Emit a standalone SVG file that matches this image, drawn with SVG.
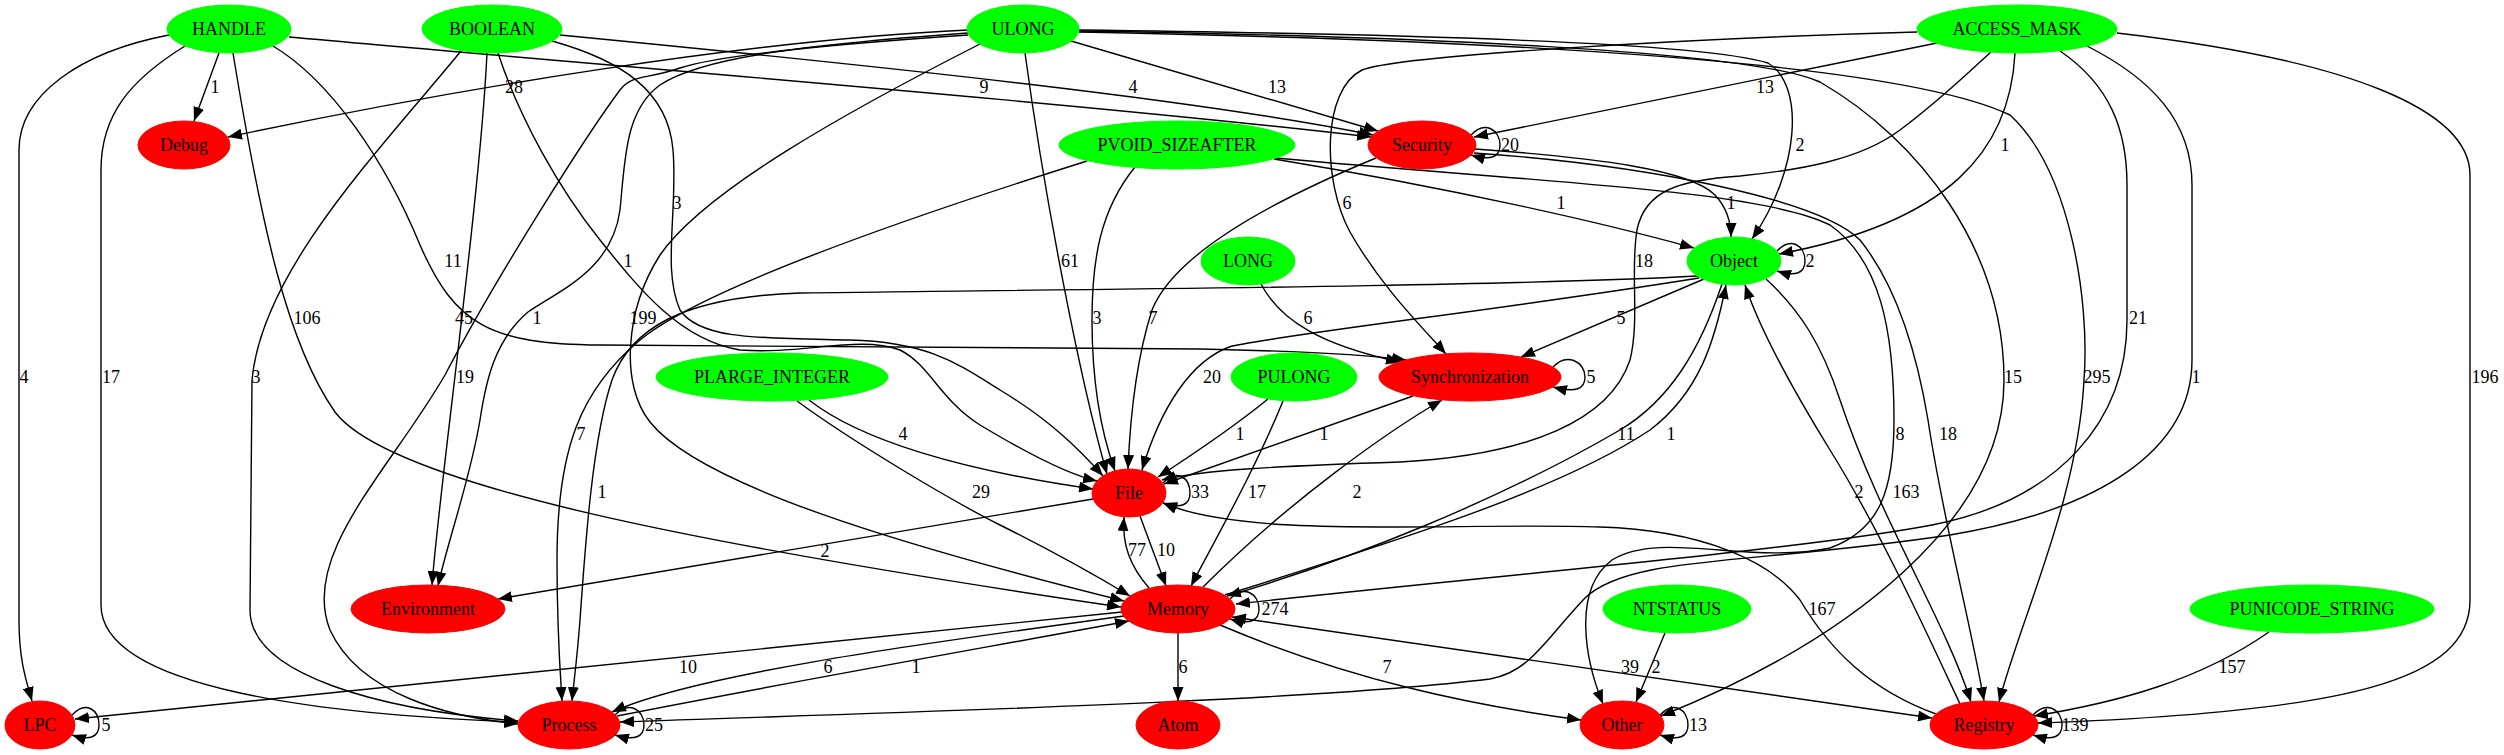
<svg xmlns="http://www.w3.org/2000/svg" width="2504" height="755" viewBox="0 0 2504 755">
<style>
.e{fill:none;stroke:#000;stroke-width:1.4;marker-end:url(#ah)}
.b{marker-start:url(#ahs)}
.l{font-family:"Liberation Serif","Times New Roman",serif;font-size:18px;text-anchor:middle;fill:#000}
.g{fill:#00ff00;stroke:#00ff00}
.r{fill:#ff0000;stroke:#ff0000}
.t{font-family:"Liberation Serif","Times New Roman",serif;font-size:18px;text-anchor:middle;fill:#000}
</style>
<defs>
<marker id="ah" markerWidth="15" markerHeight="11" refX="14" refY="5.5" orient="auto" markerUnits="userSpaceOnUse"><path d="M0,0 L14,5.5 L0,11 z" fill="#000"/></marker>
<marker id="ahs" markerWidth="15" markerHeight="11" refX="14" refY="5.5" orient="auto-start-reverse" markerUnits="userSpaceOnUse"><path d="M0,0 L14,5.5 L0,11 z" fill="#000"/></marker>
</defs>
<rect width="2504" height="755" fill="#fff"/>
<g id="edges">
<path class="e" d="M219,53 L194,121"/>
<path class="e" d="M169,35 C80,52 19,95 19,150 L19,620 C19,660 26,680 32,701"/>
<path class="e" d="M185,46 C130,80 101,115 101,170 L101,605 C101,690 330,715 518,722"/>
<path class="e" d="M233,53 C262,230 288,345 335,412 C390,485 700,545 1121,607"/>
<path class="e" d="M289,37 C600,65 1100,105 1371,137"/>
<path class="e" d="M273,46 C330,80 385,160 420,245 C455,325 490,344 600,345 L1200,349 C1300,351 1360,354 1406,360"/>
<path class="e" d="M560,35 C900,68 1200,100 1373,135"/>
<path class="e" d="M461,51 C380,150 262,270 252,380 L250,610 C250,675 380,710 518,721"/>
<path class="e" d="M487,53 C480,200 440,480 432,585"/>
<path class="e" d="M968,33 C800,45 700,58 660,85 C625,110 625,160 620,210 C612,270 560,290 528,312 C495,340 486,380 480,420 C470,480 448,540 438,586"/>
<path class="e" d="M968,35 C820,45 720,55 680,68 C645,80 632,74 620,90 C590,130 500,270 445,375 C390,470 300,555 330,630 C360,695 450,717 518,724"/>
<path class="e" d="M968,30 C750,40 460,88 228,137"/>
<path class="e" d="M1071,41 L1378,131"/>
<path class="e" d="M1025,53 C1045,200 1080,380 1107,474"/>
<path class="e" d="M980,44 C850,110 705,190 660,255 C625,310 620,385 650,422 C700,485 900,545 1124,601"/>
<path class="e" d="M1079,30 C1400,34 1700,42 1768,63 C1805,85 1800,170 1752,239"/>
<path class="e" d="M1079,31 C1400,36 1750,50 1820,82 C1920,140 2004,250 2004,380 C2004,520 1850,640 1661,716"/>
<path class="e" d="M1079,32 C1500,40 1900,62 2010,115 C2070,170 2090,300 2084,380 C2078,500 2020,620 1999,702"/>
<path class="e" d="M1937,43 L1474,137"/>
<path class="e" d="M1917,32 C1700,38 1400,55 1362,70 C1322,90 1322,180 1350,232 C1380,285 1420,325 1446,354"/>
<path class="e" d="M2015,53 C2010,150 1950,222 1779,254"/>
<path class="e" d="M1991,52 C1960,80 1940,100 1900,130 C1860,160 1800,170 1740,176 C1680,180 1645,190 1637,230 C1630,270 1640,320 1630,360 C1610,420 1530,455 1400,462 C1280,466 1200,470 1162,480"/>
<path class="e" d="M2060,51 C2110,85 2127,130 2127,185 L2127,320 C2127,420 2060,500 1932,525 C1800,550 1500,575 1236,604"/>
<path class="e" d="M2087,46 C2150,78 2192,120 2192,185 L2192,360 C2192,450 2100,510 1950,535 C1750,565 1630,555 1585,598 C1545,640 1530,672 1490,679 C1300,702 900,712 620,722"/>
<path class="e" d="M1274,159 C1450,188 1600,222 1694,248"/>
<path class="e" d="M1275,158 C1550,183 1760,190 1830,225 C1880,260 1894,330 1894,420 C1894,490 1880,530 1830,548 C1750,565 1660,530 1612,560 C1572,590 1585,660 1603,704"/>
<path class="e" d="M1135,167 C1100,210 1092,260 1092,320 C1092,390 1102,435 1115,471"/>
<path class="e" d="M1087,161 C900,220 700,290 640,340 C580,390 557,450 557,560 C557,630 560,670 562,701"/>
<path class="e" d="M1698,276 C1500,287 1000,290 800,293 C680,297 630,330 612,380 C592,440 585,550 580,620 C577,660 574,680 572,701"/>
<path class="e" d="M1699,278 C1500,310 1300,332 1232,346 C1190,360 1160,410 1142,470"/>
<path class="e" d="M1704,279 L1521,357"/>
<path class="e" d="M1777,251 C1791,236 1805,246 1805,261 C1805,273 1796,277 1777,271"/>
<path class="e" d="M1722,284 C1700,350 1670,400 1620,430 C1500,500 1350,560 1227,596"/>
<path class="e" d="M1225,595 C1400,540 1560,490 1650,430 C1700,392 1715,340 1726,285"/>
<path class="e" d="M1960,704 C1930,640 1880,530 1830,450 C1790,385 1760,330 1745,285"/>
<path class="e" d="M1766,279 C1800,310 1822,345 1840,400 C1880,520 1945,620 1971,702"/>
<path class="e" d="M1475,149 C1600,158 1690,170 1715,195 C1729,210 1731,225 1731,237"/>
<path class="e" d="M1474,153 C1650,165 1820,200 1860,240 C1900,290 1918,360 1928,420 C1943,520 1970,620 1984,701"/>
<path class="e" d="M1471,135 C1485,120 1500,130 1500,145 C1500,157 1491,161 1471,155"/>
<path class="e" d="M1376,158 C1250,210 1172,260 1152,310 C1136,360 1130,420 1128,469"/>
<path class="e" d="M1553,367 C1567,352 1585,362 1585,377 C1585,389 1576,393 1553,387"/>
<path class="e" d="M1413,396 L1164,484"/>
<path class="e" d="M1268,399 C1230,430 1192,455 1158,477"/>
<path class="e" d="M1283,401 C1255,470 1215,540 1191,586"/>
<path class="e" d="M1261,284 C1280,320 1320,345 1400,362"/>
<path class="e" d="M809,400 C860,440 960,470 1093,489"/>
<path class="e" d="M797,401 C850,440 950,500 1000,525 C1050,550 1090,572 1130,596"/>
<path class="e" d="M552,41 C620,60 668,90 673,150 C678,210 662,270 680,310 C700,340 760,338 850,340 C930,342 960,365 1000,390 C1050,420 1080,450 1103,476"/>
<path class="e" d="M498,53 C520,120 560,190 600,240 C640,290 680,340 740,350 C800,355 860,335 900,350 C930,365 940,400 980,425 C1030,455 1070,475 1097,481"/>
<path class="e" d="M1163,483 C1177,468 1190,478 1190,493 C1190,505 1181,509 1163,503"/>
<path class="e" d="M1140,516 L1166,586"/>
<path class="e" d="M1149,588 C1130,566 1122,545 1124,517"/>
<path class="e" d="M1093,499 L498,599"/>
<path class="e" d="M1203,587 C1290,500 1390,430 1442,400"/>
<path class="e" d="M1230,599 C1244,584 1259,594 1259,609 C1259,621 1250,625 1230,619"/>
<path class="e" d="M1178,633 L1178,701"/>
<path class="e" d="M1220,625 C1350,680 1470,705 1581,720"/>
<path class="e b" d="M1232,617 L1932,718"/>
<path class="e" d="M1122,612 L75,719"/>
<path class="e" d="M1124,616 C950,640 700,672 612,712"/>
<path class="e" d="M617,716 C800,680 1000,645 1129,621"/>
<path class="e" d="M72,715 C86,700 99,710 99,725 C99,737 90,741 72,735"/>
<path class="e" d="M615,715 C629,700 644,710 644,725 C644,737 635,741 615,735"/>
<path class="e" d="M1665,633 L1636,702"/>
<path class="e" d="M1660,715 C1674,700 1688,710 1688,725 C1688,737 1679,741 1660,735"/>
<path class="e" d="M2269,632 C2200,680 2120,702 2034,716"/>
<path class="e" d="M2117,33 C2350,60 2470,110 2470,175 L2470,600 C2470,680 2350,712 2038,723"/>
<path class="e" d="M2033,715 C2047,700 2062,710 2062,725 C2062,737 2053,741 2033,735"/>
<path class="e" d="M1936,714 C1870,690 1830,650 1800,600 C1770,560 1700,530 1600,527 C1450,522 1250,540 1163,503"/>
<g id="edge-labels">
<text class="l" x="215" y="93">1</text>
<text class="l" x="514" y="93">28</text>
<text class="l" x="677" y="209">3</text>
<text class="l" x="453" y="267">11</text>
<text class="l" x="628" y="267">1</text>
<text class="l" x="307" y="324">106</text>
<text class="l" x="464" y="324">45</text>
<text class="l" x="537" y="324">1</text>
<text class="l" x="643" y="324">199</text>
<text class="l" x="24" y="383">4</text>
<text class="l" x="111" y="383">17</text>
<text class="l" x="256" y="383">3</text>
<text class="l" x="465" y="383">19</text>
<text class="l" x="984" y="93">9</text>
<text class="l" x="1133" y="93">4</text>
<text class="l" x="1277" y="93">13</text>
<text class="l" x="1510" y="151">20</text>
<text class="l" x="1347" y="209">6</text>
<text class="l" x="1561" y="209">1</text>
<text class="l" x="1070" y="267">61</text>
<text class="l" x="1644" y="267">18</text>
<text class="l" x="1097" y="324">3</text>
<text class="l" x="1153" y="324">7</text>
<text class="l" x="1308" y="324">6</text>
<text class="l" x="1621" y="324">5</text>
<text class="l" x="1212" y="383">20</text>
<text class="l" x="1591" y="383">5</text>
<text class="l" x="1765" y="93">13</text>
<text class="l" x="1800" y="151">2</text>
<text class="l" x="2005" y="151">1</text>
<text class="l" x="1731" y="209">1</text>
<text class="l" x="1810" y="267">2</text>
<text class="l" x="2138" y="324">21</text>
<text class="l" x="2013" y="383">15</text>
<text class="l" x="2097" y="383">295</text>
<text class="l" x="2196" y="383">1</text>
<text class="l" x="2485" y="383">196</text>
<text class="l" x="581" y="440">7</text>
<text class="l" x="602" y="498">1</text>
<text class="l" x="825" y="557">2</text>
<text class="l" x="688" y="673">10</text>
<text class="l" x="828" y="673">6</text>
<text class="l" x="106" y="731">5</text>
<text class="l" x="654" y="731">25</text>
<text class="l" x="903" y="440">4</text>
<text class="l" x="1240" y="440">1</text>
<text class="l" x="1324" y="440">1</text>
<text class="l" x="1626" y="440">11</text>
<text class="l" x="981" y="498">29</text>
<text class="l" x="1200" y="498">33</text>
<text class="l" x="1257" y="498">17</text>
<text class="l" x="1357" y="498">2</text>
<text class="l" x="1137" y="556">77</text>
<text class="l" x="1166" y="556">10</text>
<text class="l" x="1275" y="615">274</text>
<text class="l" x="1183" y="673">6</text>
<text class="l" x="916" y="673">1</text>
<text class="l" x="1387" y="673">7</text>
<text class="l" x="1630" y="673">39</text>
<text class="l" x="1656" y="673">2</text>
<text class="l" x="1671" y="440">1</text>
<text class="l" x="1900" y="440">8</text>
<text class="l" x="1948" y="440">18</text>
<text class="l" x="1859" y="498">2</text>
<text class="l" x="1906" y="498">163</text>
<text class="l" x="1822" y="615">167</text>
<text class="l" x="2232" y="673">157</text>
<text class="l" x="1698" y="731">13</text>
<text class="l" x="2075" y="731">139</text>
</g>
</g>
<g id="node-HANDLE"><ellipse class="g" cx="229" cy="29" rx="62" ry="24"/><text class="t" x="229" y="35">HANDLE</text></g>
<g id="node-BOOLEAN"><ellipse class="g" cx="492" cy="29" rx="70" ry="24"/><text class="t" x="492" y="35">BOOLEAN</text></g>
<g id="node-ULONG"><ellipse class="g" cx="1023" cy="29" rx="56" ry="24"/><text class="t" x="1023" y="35">ULONG</text></g>
<g id="node-ACCESS_MASK"><ellipse class="g" cx="2017" cy="29" rx="100" ry="24"/><text class="t" x="2017" y="35">ACCESS_MASK</text></g>
<g id="node-Debug"><ellipse class="r" cx="184" cy="145" rx="46" ry="24"/><text class="t" x="184" y="151">Debug</text></g>
<g id="node-PVOID_SIZEAFTER"><ellipse class="g" cx="1177" cy="145" rx="118" ry="24"/><text class="t" x="1177" y="151">PVOID_SIZEAFTER</text></g>
<g id="node-Security"><ellipse class="r" cx="1422" cy="145" rx="54" ry="24"/><text class="t" x="1422" y="151">Security</text></g>
<g id="node-LONG"><ellipse class="g" cx="1248" cy="261" rx="47" ry="24"/><text class="t" x="1248" y="267">LONG</text></g>
<g id="node-Object"><ellipse class="g" cx="1734" cy="261" rx="47" ry="24"/><text class="t" x="1734" y="267">Object</text></g>
<g id="node-PLARGE_INTEGER"><ellipse class="g" cx="772" cy="377" rx="116" ry="24"/><text class="t" x="772" y="383">PLARGE_INTEGER</text></g>
<g id="node-PULONG"><ellipse class="g" cx="1294" cy="377" rx="63" ry="24"/><text class="t" x="1294" y="383">PULONG</text></g>
<g id="node-Synchronization"><ellipse class="r" cx="1470" cy="377" rx="91" ry="24"/><text class="t" x="1470" y="383">Synchronization</text></g>
<g id="node-File"><ellipse class="r" cx="1129" cy="493" rx="37" ry="24"/><text class="t" x="1129" y="499">File</text></g>
<g id="node-Environment"><ellipse class="r" cx="428" cy="609" rx="77" ry="24"/><text class="t" x="428" y="615">Environment</text></g>
<g id="node-Memory"><ellipse class="r" cx="1178" cy="609" rx="57" ry="24"/><text class="t" x="1178" y="615">Memory</text></g>
<g id="node-NTSTATUS"><ellipse class="g" cx="1677" cy="609" rx="74" ry="24"/><text class="t" x="1677" y="615">NTSTATUS</text></g>
<g id="node-PUNICODE_STRING"><ellipse class="g" cx="2312" cy="609" rx="122" ry="24"/><text class="t" x="2312" y="615">PUNICODE_STRING</text></g>
<g id="node-LPC"><ellipse class="r" cx="40" cy="725" rx="35" ry="24"/><text class="t" x="40" y="731">LPC</text></g>
<g id="node-Process"><ellipse class="r" cx="569" cy="725" rx="51" ry="24"/><text class="t" x="569" y="731">Process</text></g>
<g id="node-Atom"><ellipse class="r" cx="1178" cy="725" rx="42" ry="24"/><text class="t" x="1178" y="731">Atom</text></g>
<g id="node-Other"><ellipse class="r" cx="1622" cy="725" rx="42" ry="24"/><text class="t" x="1622" y="731">Other</text></g>
<g id="node-Registry"><ellipse class="r" cx="1984" cy="725" rx="54" ry="24"/><text class="t" x="1984" y="731">Registry</text></g>
</svg>
